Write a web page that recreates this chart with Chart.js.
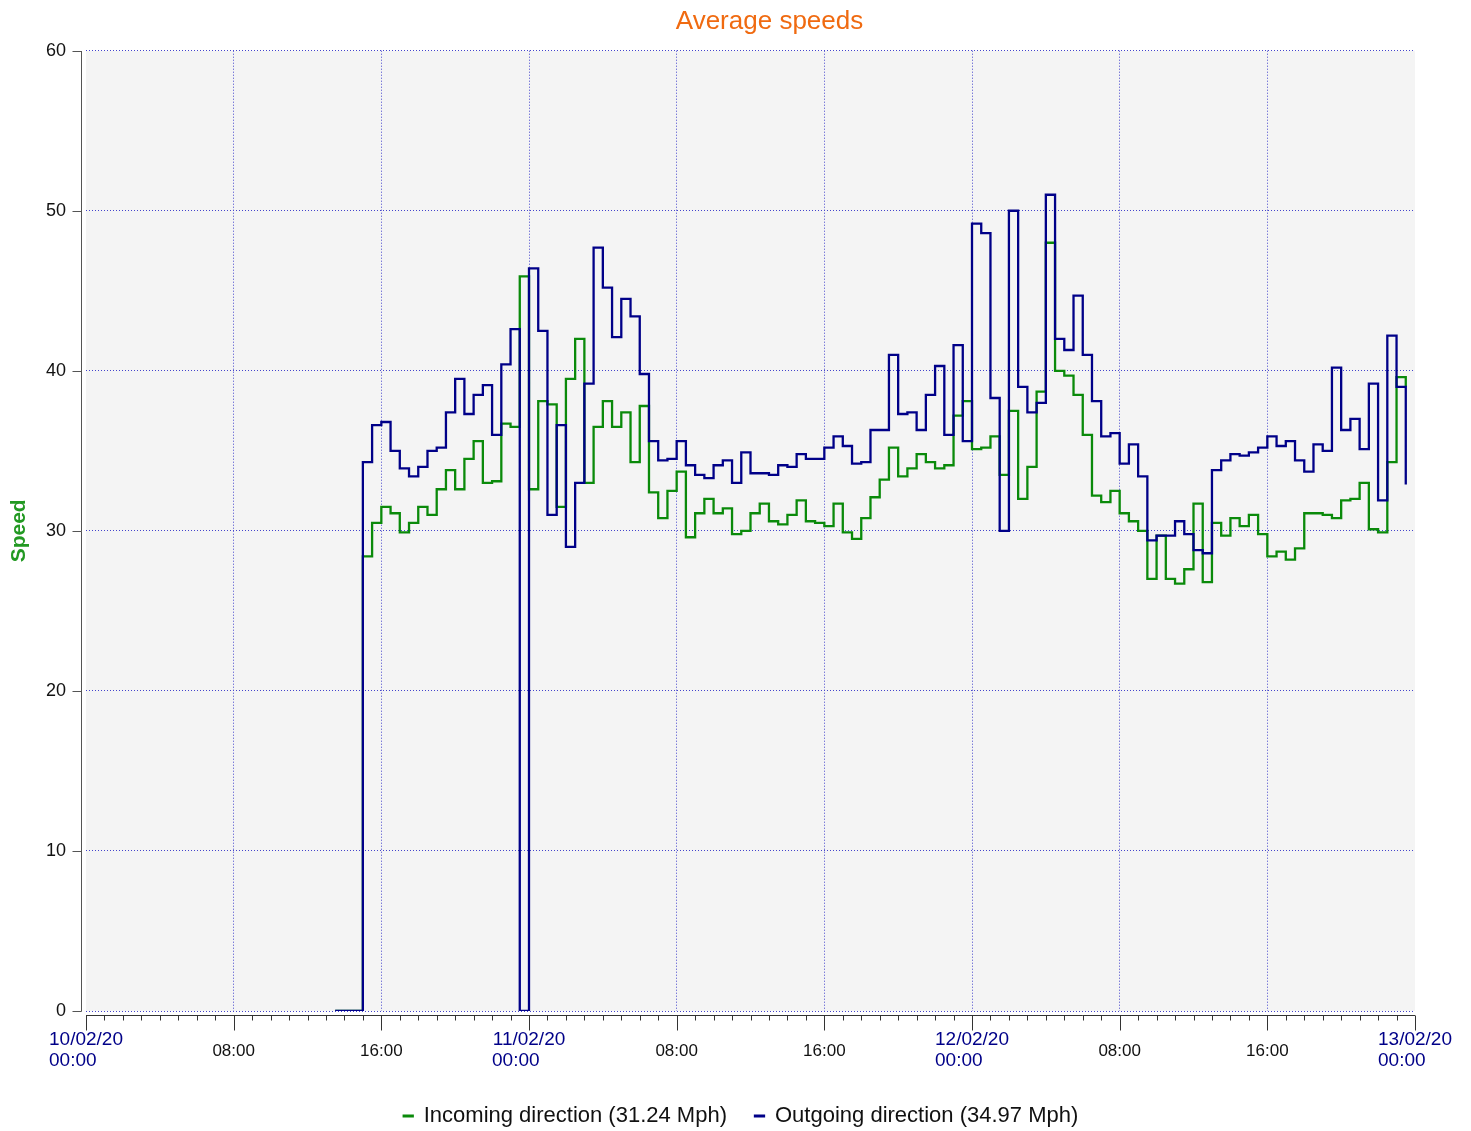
<!DOCTYPE html>
<html>
<head>
<meta charset="utf-8">
<script src="https://cdn.jsdelivr.net/npm/chart.js@4.4.1/dist/chart.umd.min.js"></script>
<style>
html,body{margin:0;padding:0;background:#ffffff;}
#wrap{width:1471px;height:1131px;}
</style>
</head>
<body>
<div id="wrap"><canvas id="c" width="1471" height="1131"></canvas></div>
<script>
// ---- text ----
const chartTitle = 'Average speeds';
const yAxisTitle = 'Speed';
const seriesLabels = ['Incoming direction (31.24 Mph)', 'Outgoing direction (34.97 Mph)'];
const dateLabels = ['10/02/20', '11/02/20', '12/02/20', '13/02/20'];
const timeLabels = ['00:00', '08:00', '16:00'];

// ---- time base: hours after 10/02/20 00:00, one sample every 30 minutes ----
const sampleStartHour = 13.5;   // 10/02/20 13:30
const sampleStepHours = 0.5;

// ---- series values (speed), 10/02 13:30 ... 12/02 23:30 ----
const incoming = [
  0, 0, 0,
  28.4, 30.5, 31.5, 31.1, 29.9, 30.5, 31.5, 31.0, 32.6, 33.8, 32.6, 34.5, 35.6, 33.0, 33.1, 36.7, 36.5, 45.9,
  32.6, 38.1, 37.9, 31.5, 39.5, 42.0, 33.0, 36.5, 38.1, 36.5, 37.4, 34.3, 37.8, 32.4, 30.8, 32.5,
  33.7, 29.6, 31.1, 32.0, 31.1, 31.4, 29.8, 30.0, 31.1, 31.7, 30.6, 30.4, 31.0, 31.9, 30.6, 30.5,
  30.3, 31.7, 29.9, 29.5, 30.8, 32.1, 33.2, 35.2, 33.4, 33.9, 34.8, 34.3, 33.9, 34.1, 37.2, 38.1,
  35.1, 35.2, 35.9, 33.5, 37.5, 32.0, 34.0, 38.7, 48.0, 40.0, 39.7, 38.5, 36.0, 32.2, 31.8, 32.5,
  31.1, 30.6, 30.0, 27.0, 29.7, 27.0, 26.7, 27.6, 31.7, 26.8, 30.5, 29.7, 30.8, 30.3, 31.0, 29.8,
  28.4, 28.7, 28.2, 28.9, 31.1, 31.1, 31.0, 30.8, 31.9, 32.0, 33.0, 30.1, 29.9, 34.3, 39.6, 39.0
];
const outgoing = [
  0, 0, 0,
  34.3, 36.6, 36.8, 35.0, 33.9, 33.4, 34.0, 35.0, 35.2, 37.4, 39.5, 37.3, 38.5, 39.1, 36.0, 40.4, 42.6, 0,
  46.4, 42.5, 31.0, 36.6, 29.0, 33.0, 39.2, 47.7, 45.2, 42.1, 44.5, 43.4, 39.8, 35.6, 34.4, 34.5,
  35.6, 34.1, 33.5, 33.3, 34.1, 34.4, 33.0, 34.9, 33.6, 33.6, 33.5, 34.1, 34.0, 34.8, 34.5, 34.5,
  35.2, 35.9, 35.3, 34.2, 34.3, 36.3, 36.3, 41.0, 37.3, 37.4, 36.3, 38.5, 40.3, 36.0, 41.6, 35.6,
  49.2, 48.6, 38.3, 30.0, 50.0, 39.0, 37.4, 38.0, 51.0, 42.0, 41.3, 44.7, 41.0, 38.1, 35.9, 36.1,
  34.2, 35.4, 33.4, 29.4, 29.7, 29.7, 30.6, 29.8, 28.8, 28.6, 33.8, 34.4, 34.8, 34.7, 34.9, 35.2,
  35.9, 35.3, 35.6, 34.4, 33.7, 35.4, 35.0, 40.2, 36.3, 37.0, 35.1, 39.2, 31.9, 42.2, 39.0, 32.9
];

// ---- style ----
const FONT = "'Liberation Sans', Arial, sans-serif";
const GREEN = '#0a8a0a';
const NAVY = '#000088';
const GRID = '#4444cc';
const AXIS = '#555555';

const toPoints = arr => arr.map((v, i) => ({ x: sampleStartHour + i * sampleStepHours, y: v }));

const decor = {
  id: 'decor',
  afterLayout(chart) {
    const t = chart.titleBlock;
    if (t) {
      const dx = 769.5 - (t.left + t.right) / 2;
      t.left += dx; t.right += dx;
    }
    const l = chart.legend;
    if (l) {
      const dx = 741 - (l.left + l.right) / 2;
      l.left += dx; l.right += dx;
      const dy = 1077 - l.top;
      l.top += dy; l.bottom += dy;
    }
  },
  beforeDraw(chart) {
    const { ctx, chartArea: a } = chart;
    ctx.save();
    ctx.fillStyle = '#f4f4f4';
    ctx.fillRect(a.left, a.top, a.right - a.left, a.bottom - a.top);
    ctx.restore();
  },
  afterDraw(chart) {
    const { ctx, chartArea: a, scales } = chart;
    const xs = scales.x, ys = scales.y;
    ctx.save();
    ctx.strokeStyle = AXIS;
    ctx.lineWidth = 1;
    // y axis line + ticks
    const yx = Math.round(a.left) - 4.5;
    ctx.beginPath();
    ctx.moveTo(yx, Math.round(a.top));
    ctx.lineTo(yx, Math.round(a.bottom) + 0.5);
    ys.ticks.forEach(t => {
      const py = Math.round(ys.getPixelForValue(t.value)) + 0.5;
      ctx.moveTo(yx - 9, py);
      ctx.lineTo(yx, py);
    });
    ctx.stroke();
    // x axis line + hourly ticks
    const xy = Math.round(a.bottom) + 4.5;
    ctx.strokeStyle = '#333333';
    ctx.beginPath();
    ctx.moveTo(Math.round(a.left), xy);
    ctx.lineTo(Math.round(a.right), xy);
    for (let h = xs.min; h <= xs.max; h += 1) {
      const px = Math.round(xs.getPixelForValue(h)) + 0.5;
      ctx.moveTo(px, xy);
      ctx.lineTo(px, xy + (h % 8 === 0 ? 15 : 5));
    }
    ctx.stroke();
    ctx.restore();
  }
};

new Chart(document.getElementById('c'), {
  type: 'line',
  data: {
    datasets: [
      { label: seriesLabels[0], data: toPoints(incoming), borderColor: GREEN, backgroundColor: GREEN,
        borderWidth: 2.3, stepped: true, pointRadius: 0, order: 1 },
      { label: seriesLabels[1], data: toPoints(outgoing), borderColor: NAVY, backgroundColor: NAVY,
        borderWidth: 2.3, stepped: true, pointRadius: 0, order: 0 }
    ]
  },
  options: {
    responsive: false,
    animation: false,
    devicePixelRatio: 1,
    layout: { padding: { left: 0, right: 56, top: 0, bottom: 0 } },
    plugins: {
      title: { display: true, text: chartTitle, color: '#f06a10',
        font: { family: FONT, size: 26, weight: 'normal' }, padding: { top: 6, bottom: 13.5 } },
      legend: { position: 'bottom',
        labels: { boxWidth: 9, boxHeight: 0.5, padding: 28, color: '#111111',
          font: { family: FONT, size: 22 }, sort: (a, b) => a.datasetIndex - b.datasetIndex } },
      tooltip: { enabled: false }
    },
    scales: {
      x: {
        type: 'linear', min: 0, max: 72,
        afterFit: s => {
          s.height = s.chart.height - 1011 - s.chart.legend.height;
          s.paddingLeft = 0;
          s.paddingRight = 0;
        },
        ticks: {
          stepSize: 8, autoSkip: false, maxRotation: 0, minRotation: 0, crossAlign: 'center', padding: 29,
          callback: v => (v % 24 === 0)
            ? [dateLabels[v / 24], timeLabels[0] + '\u00a0\u00a0\u00a0\u00a0\u00a0']
            : timeLabels[(v % 24) / 8],
          color: c => (c.tick && c.tick.value % 24 === 0) ? '#000088' : '#111111',
          font: c => (c.tick && c.tick.value % 24 === 0)
            ? { family: FONT, size: 19, lineHeight: 1.1 }
            : { family: FONT, size: 17, lineHeight: 1.1 }
        },
        grid: { drawTicks: false, lineWidth: 1,
          color: c => (c.tick && (c.tick.value === 0 || c.tick.value === 72)) ? 'rgba(0,0,0,0)' : GRID },
        border: { display: false, dash: [1, 2] }
      },
      y: {
        min: 0, max: 60,
        afterFit: s => { s.width = 86; },
        ticks: { stepSize: 10, padding: 20, color: '#111111', font: { family: FONT, size: 18 } },
        grid: { drawTicks: false, lineWidth: 1, color: GRID },
        border: { display: false, dash: [1, 2] },
        title: { display: true, text: yAxisTitle, color: '#229922',
          font: { family: FONT, size: 21, weight: 'bold' }, padding: { top: 7, bottom: 0 } }
      }
    }
  },
  plugins: [decor]
});
</script>
</body>
</html>
